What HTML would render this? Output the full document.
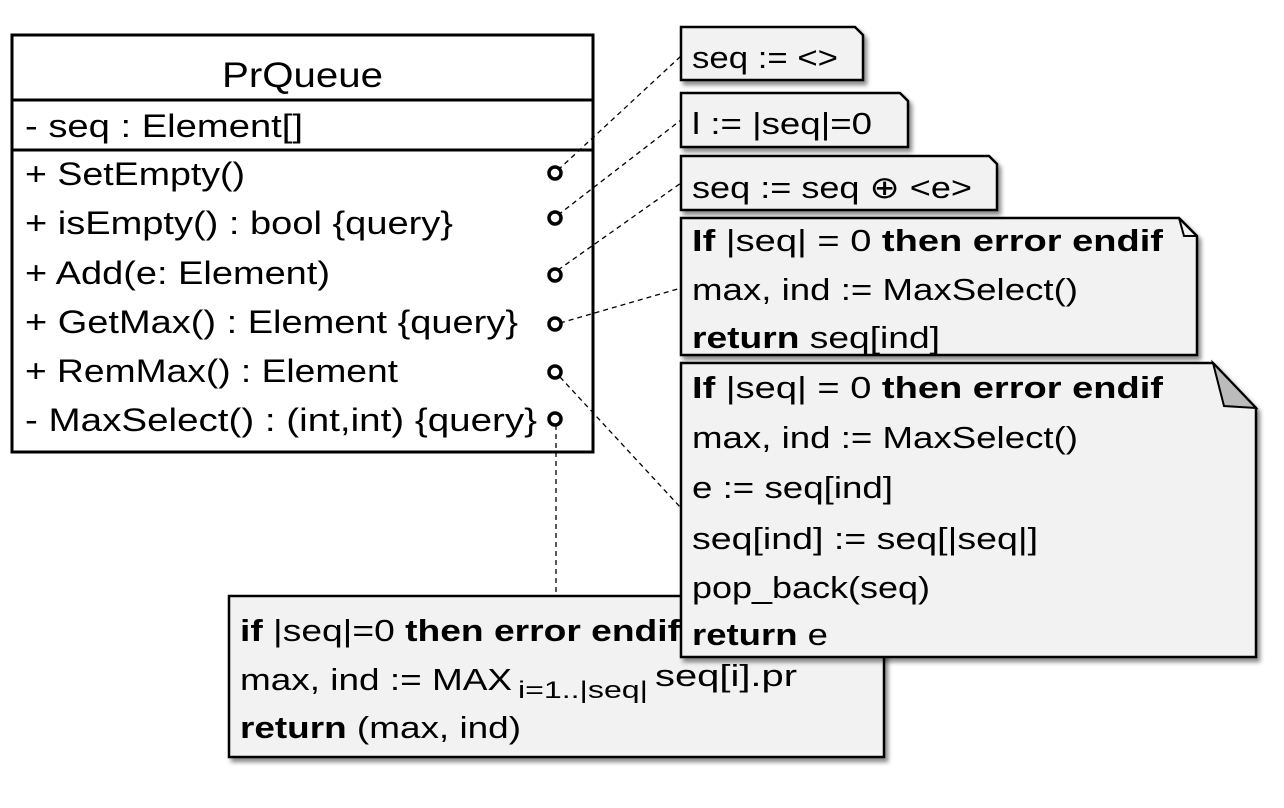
<!DOCTYPE html>
<html><head><meta charset="utf-8"><style>html,body{margin:0;padding:0;background:#fff}svg{display:block}text{font-family:"Liberation Sans",sans-serif;fill:#000}</style></head>
<body>
<svg width="1284" height="808" viewBox="0 0 1284 808" xmlns="http://www.w3.org/2000/svg">
<defs><filter id="sh" x="-5%" y="-5%" width="115%" height="125%"><feDropShadow dx="3" dy="4" stdDeviation="2" flood-color="#000" flood-opacity="0.45"/></filter></defs>

<rect x="12" y="35" width="581" height="417" fill="#fff" stroke="#000" stroke-width="3"/>
<line x1="12" y1="100" x2="593" y2="100" stroke="#000" stroke-width="3"/>
<line x1="12" y1="150" x2="593" y2="150" stroke="#000" stroke-width="3"/>
<g font-size="32">
<text x="222" y="87" font-size="35" textLength="161" lengthAdjust="spacingAndGlyphs">PrQueue</text>
<text x="25" y="137" textLength="278" lengthAdjust="spacingAndGlyphs">- seq : Element[]</text>
<text x="25" y="185" textLength="220" lengthAdjust="spacingAndGlyphs">+ SetEmpty()</text>
<text x="25" y="234" textLength="428" lengthAdjust="spacingAndGlyphs">+ isEmpty() : bool {query}</text>
<text x="25" y="284" textLength="305" lengthAdjust="spacingAndGlyphs">+ Add(e: Element)</text>
<text x="25" y="333" textLength="493" lengthAdjust="spacingAndGlyphs">+ GetMax() : Element {query}</text>
<text x="25" y="382" textLength="373" lengthAdjust="spacingAndGlyphs">+ RemMax() : Element</text>
<text x="25" y="431" textLength="512" lengthAdjust="spacingAndGlyphs">- MaxSelect() : (int,int) {query}</text>
</g>

<g stroke="#000" stroke-width="1.3" stroke-dasharray="5,4" fill="none">
<line x1="558" y1="170" x2="681" y2="56"/>
<line x1="558" y1="215" x2="681" y2="120"/>
<line x1="558" y1="270" x2="681" y2="183"/>
<line x1="560" y1="323" x2="681" y2="288"/>
<line x1="560" y1="377" x2="681" y2="508"/>
<line x1="556" y1="425" x2="556" y2="596"/>
</g>
<g fill="#fff" stroke="#000" stroke-width="3.5">
<circle cx="555" cy="173" r="6"/><circle cx="555" cy="218" r="6"/><circle cx="555" cy="275" r="6"/>
<circle cx="555" cy="324" r="6"/><circle cx="555" cy="372" r="6"/><circle cx="555" cy="419" r="6"/>
</g>

<rect x="229" y="596" width="655" height="161" fill="#f2f2f2" stroke="#000" stroke-width="2.5" filter="url(#sh)"/>
<g font-size="31">
<text x="240" y="641" textLength="440" lengthAdjust="spacingAndGlyphs"><tspan font-weight="bold">if</tspan> |seq|=0 <tspan font-weight="bold">then error endif</tspan></text>
<text x="240" y="690" textLength="272" lengthAdjust="spacingAndGlyphs">max, ind := MAX</text>
<text x="518" y="698" font-size="24" textLength="130" lengthAdjust="spacingAndGlyphs">i=1..|seq|</text>
<text x="655" y="686" textLength="142" lengthAdjust="spacingAndGlyphs">seq[i].pr</text>
<text x="240" y="738" textLength="281" lengthAdjust="spacingAndGlyphs"><tspan font-weight="bold">return</tspan> (max, ind)</text>
</g>

<g fill="#f2f2f2" stroke="#000" stroke-width="2.5" filter="url(#sh)">
<path d="M681,27 H855 L863,35 V80 H681 Z"/>
<path d="M681,93 H900 L908,101 V147 H681 Z"/>
<path d="M681,156 H989 L997,164 V210 H681 Z"/>
<path d="M681,218 H1179 L1197,236 V355 H681 Z"/>
<path d="M681,363 H1213 L1256,408 V657 H681 Z"/>
</g>
<path d="M1179,218 L1184,236 L1197,236" fill="none" stroke="#000" stroke-width="2"/>
<path d="M1213,363 L1224,406 L1256,408 Z" fill="#bbb" stroke="#000" stroke-width="2"/>
<g font-size="31">
<text x="692" y="68" textLength="146" lengthAdjust="spacingAndGlyphs">seq := &lt;&gt;</text>
<text x="692" y="134" textLength="180" lengthAdjust="spacingAndGlyphs">l := |seq|=0</text>
<text x="692" y="198" textLength="280" lengthAdjust="spacingAndGlyphs">seq := seq ⊕ &lt;e&gt;</text>
<text x="692" y="251" textLength="471" lengthAdjust="spacingAndGlyphs"><tspan font-weight="bold">If</tspan> |seq|  = 0 <tspan font-weight="bold">then error endif</tspan></text>
<text x="692" y="300" textLength="386" lengthAdjust="spacingAndGlyphs">max, ind := MaxSelect()</text>
<text x="692" y="348" textLength="248" lengthAdjust="spacingAndGlyphs"><tspan font-weight="bold">return</tspan> seq[ind]</text>
<text x="692" y="398" textLength="471" lengthAdjust="spacingAndGlyphs"><tspan font-weight="bold">If</tspan> |seq|  = 0 <tspan font-weight="bold">then error endif</tspan></text>
<text x="692" y="448" textLength="386" lengthAdjust="spacingAndGlyphs">max, ind := MaxSelect()</text>
<text x="692" y="498" textLength="201" lengthAdjust="spacingAndGlyphs">e := seq[ind]</text>
<text x="692" y="549" textLength="346" lengthAdjust="spacingAndGlyphs">seq[ind] := seq[|seq|]</text>
<text x="692" y="598" textLength="238" lengthAdjust="spacingAndGlyphs">pop_back(seq)</text>
<text x="692" y="645" textLength="136" lengthAdjust="spacingAndGlyphs"><tspan font-weight="bold">return</tspan> e</text>
</g>
</svg>
</body></html>
